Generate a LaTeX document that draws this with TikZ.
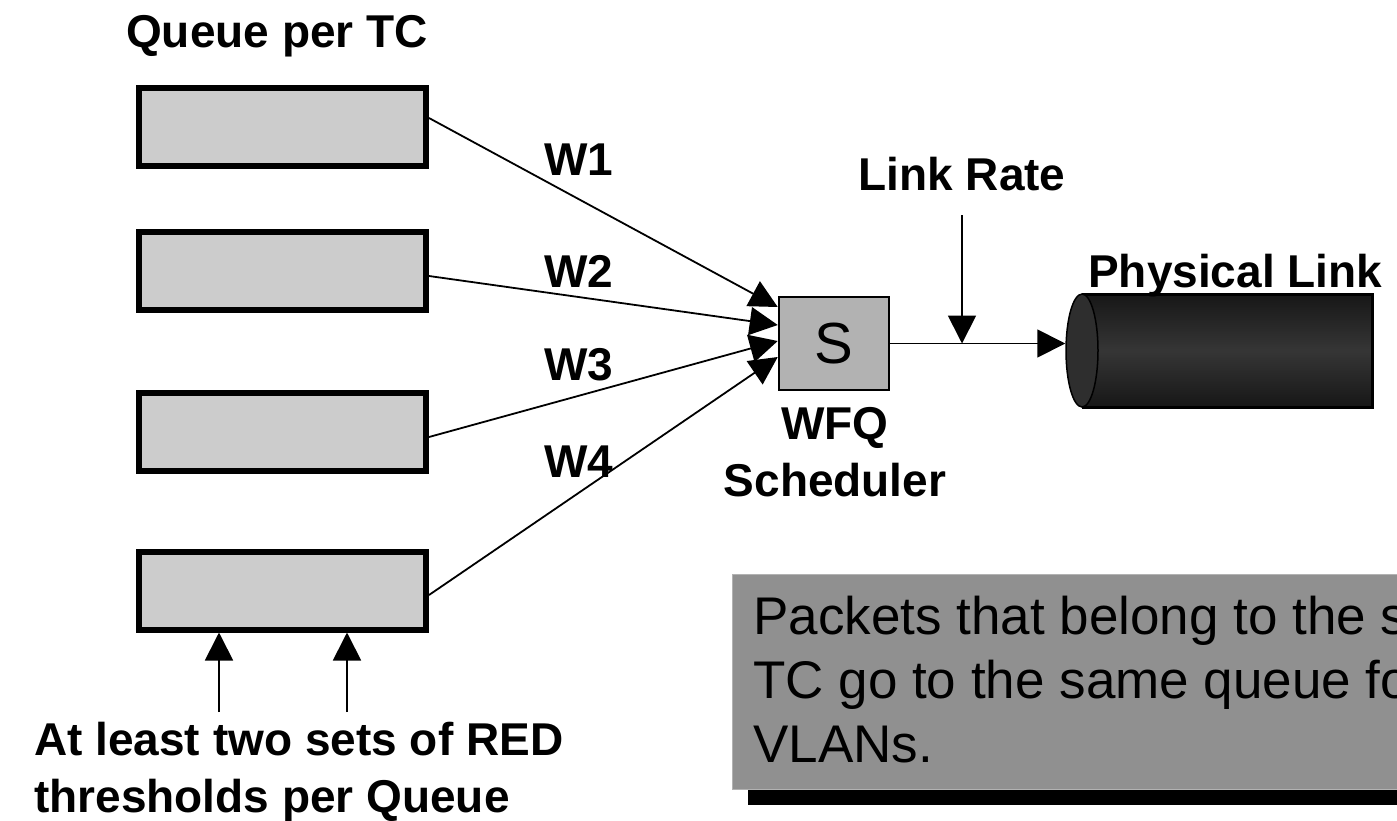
\documentclass[tikz,border=0pt]{standalone}
\usepackage{fontspec}
\setmainfont{Liberation Sans}
\usetikzlibrary{arrows.meta,calc,shapes.geometric}
\definecolor{qfill}{gray}{0.80}
\definecolor{sfill}{gray}{0.70}
\definecolor{nfill}{gray}{0.565}
\definecolor{cyldark}{gray}{0.09}
\definecolor{cylmid}{gray}{0.21}
\begin{document}
\begin{tikzpicture}[x=1pt,y=-1pt,
  queue/.style={draw, line width=6pt, fill=qfill, minimum width=287pt, minimum height=78pt, inner sep=0pt},
  sched/.style={draw, line width=2.5pt, fill=sfill, minimum width=110pt, minimum height=93pt, inner sep=0pt, font=\fontsize{58}{60}\selectfont},
  lbl/.style={inner sep=0pt, font=\fontsize{46}{57}\selectfont\bfseries},
  conn/.style={line width=1.8pt, -{Triangle[length=28pt,width=28pt]}},
]
\clip (0,0) rectangle (1397,820);
\fill[white] (0,0) rectangle (1397,820);

% queues
\node[lbl, anchor=base west] (qtc) at (126,47) {Queue per TC};
\node[queue] (q1) at (282.5,127) {};
\node[queue] (q2) at (282.5,271) {};
\node[queue] (q3) at (282.5,432) {};
\node[queue] (q4) at (282.5,590.5) {};

% scheduler
\node[sched] (S) at (834,343.5) {S};
\node[lbl, align=center, anchor=north] (wfq) at (835,407) {WFQ\\Scheduler};

% weights
\node[lbl, anchor=base west] (w1) at (544,175) {W1};
\node[lbl, anchor=base west] (w2) at (544,287) {W2};
\node[lbl, anchor=base west] (w3) at (544,380) {W3};
\node[lbl, anchor=base west] (w4) at (544,477) {W4};

\draw[conn] ($(q1.east)+(0,-9)$) -- ($(S.west)+(0,-36.5)$);
\draw[conn] ($(q2.east)+(0,5)$) -- ($(S.west)+(0,-18.5)$);
\draw[conn] ($(q3.east)+(0,5)$) -- ($(S.west)+(0,-2.5)$);
\draw[conn] ($(q4.east)+(0,4.5)$) -- ($(S.west)+(0,13.5)$);

% physical link cylinder
\shade[top color=cyldark, bottom color=cyldark, middle color=cylmid] (1082,294) rectangle (1372,407);
\draw[line width=3pt] (1082,294) -- (1372,294) -- (1372,407) -- (1082,407);
\node[draw, ellipse, fill=cyldark!90!white, line width=1.5pt, minimum width=32pt, minimum height=113pt, inner sep=0pt] (cyl) at (1082,350.5) {};
\node[lbl, anchor=base west] (pl) at (1088,287) {Physical Link};

\draw[conn] (S.east) -- (S.east -| cyl.west);

% link rate
\node[lbl, anchor=base] (lr) at (962,190) {Link Rate};
\coordinate (lrtop) at (962,215);
\draw[conn] (lrtop) -- (lrtop |- S.east);

% RED thresholds
\coordinate (t1) at (219,712);
\coordinate (t2) at (347,712);
\draw[conn] (t1) -- (t1 |- q4.south);
\draw[conn] (t2) -- (t2 |- q4.south);
\node[lbl, align=left, anchor=north west] (red) at (34,722) {At least two sets of RED\\thresholds per Queue};

% note box
\fill[black] (748,600) rectangle (1400,805);
\filldraw[fill=nfill, draw=gray!60, line width=1pt] (732,574) rectangle (1400,789);
\node[anchor=north west, inner sep=0pt, align=left, font=\fontsize{53}{64}\selectfont] (note) at (753,596) {Packets that belong to the same\\TC go to the same queue for\\VLANs.};
\end{tikzpicture}
\end{document}
